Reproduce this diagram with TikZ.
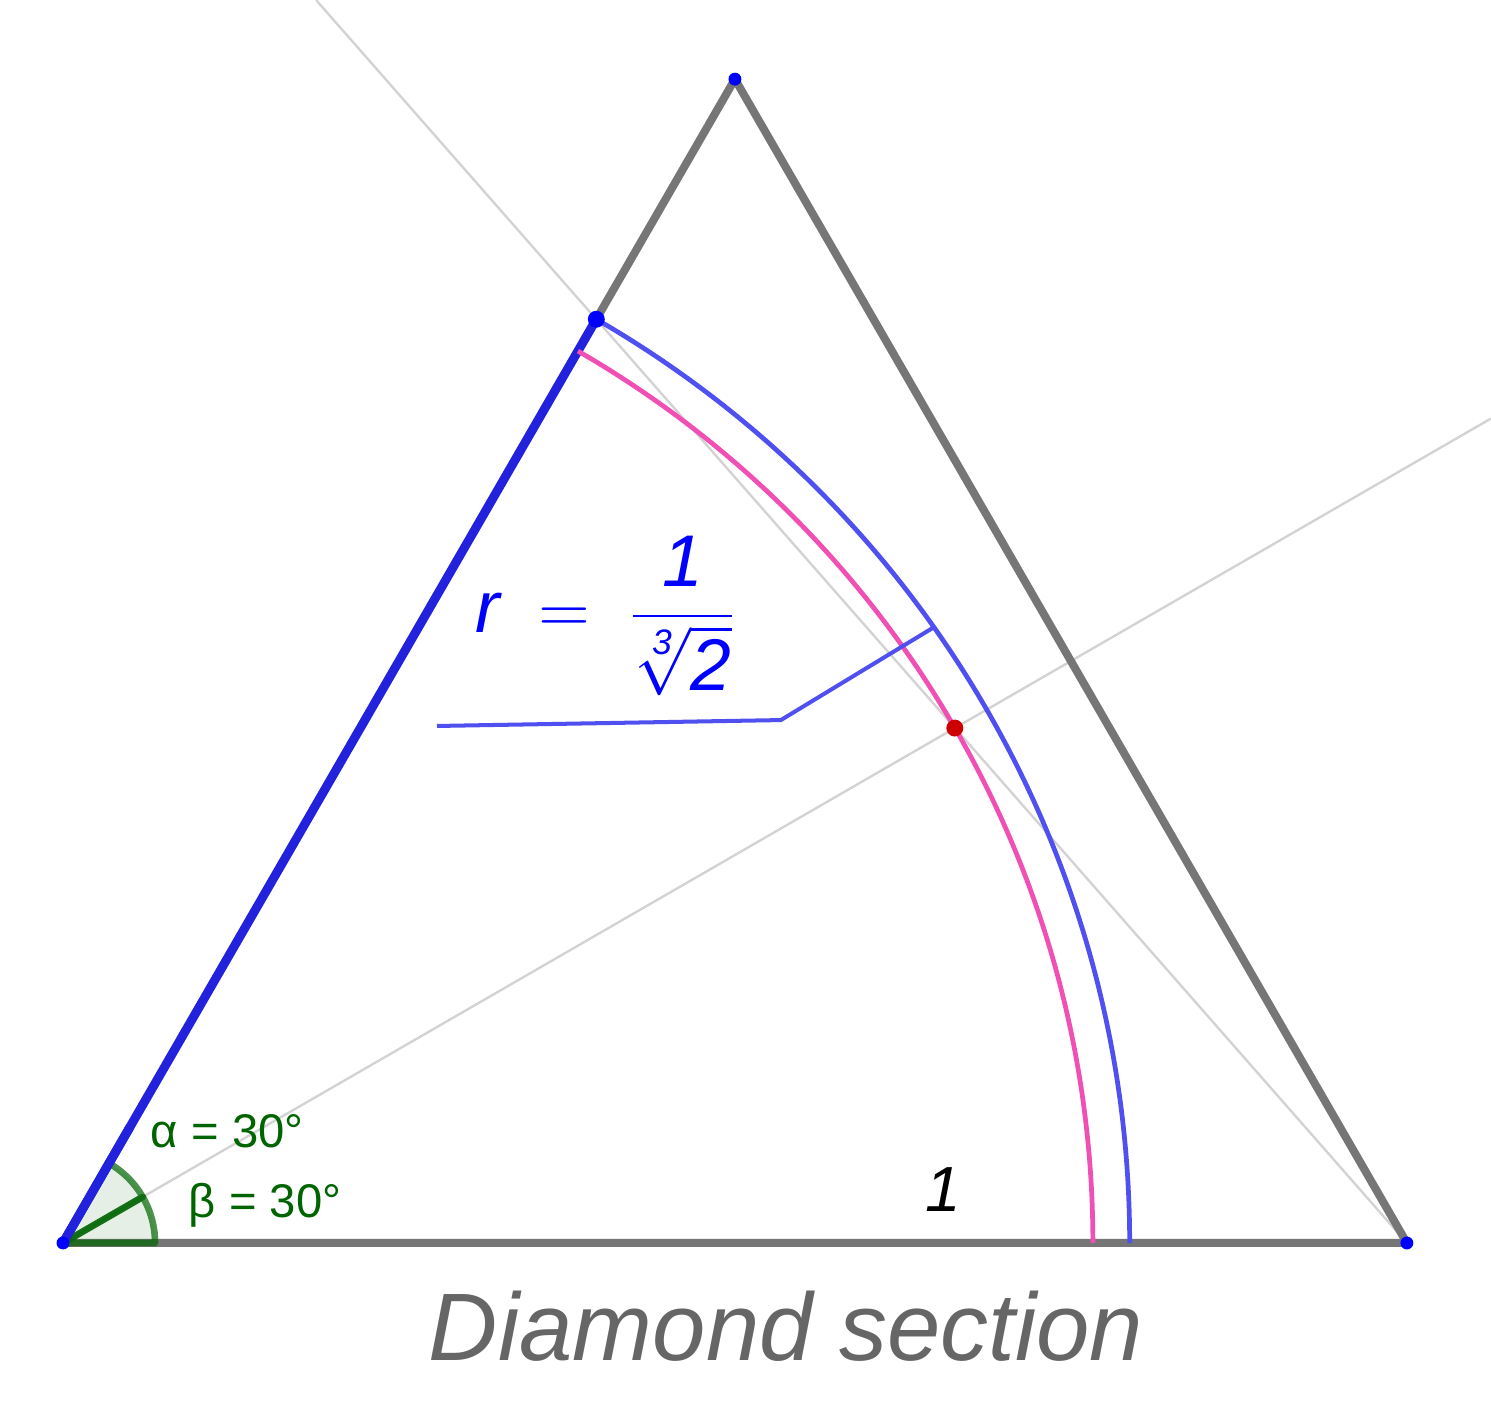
\documentclass[tikz,border=0pt]{standalone}
\usepackage{fontspec}
\setmainfont{Liberation Sans}
\usepackage{amsmath}
\usepackage{xcolor}
\usetikzlibrary{calc, math}
\definecolor{sidegray}{RGB}{118,118,118}
\definecolor{guidegray}{RGB}{211,211,211}
\definecolor{segblue}{RGB}{34,34,221}
\definecolor{arcblue}{RGB}{80,80,240}
\definecolor{arcpink}{RGB}{240,80,180}
\definecolor{ptblue}{RGB}{0,0,255}
\definecolor{ptred}{RGB}{204,0,0}
\definecolor{anggreen}{RGB}{0,100,0}
\definecolor{titlegray}{RGB}{102,102,102}

\begin{document}
\begin{tikzpicture}[scale=10,
 guide/.style={line width=0.5pt, color=guidegray},
 side/.style={line width=1.7pt, color=sidegray, line join=round},
 arcline/.style={line width=1pt},
 angmark/.style={fill=anggreen, fill opacity=0.1, draw=anggreen, draw opacity=0.7, line width=1.4pt, line join=round},
 anglabel/.style={text=anggreen, font=\fontsize{10}{12}\selectfont, inner sep=0pt, anchor=base west}
]
\tikzmath{
\r=1/pow(2,1/3);
\dx=1-\r*cos(60);
\dy=\r*sin(60);
\p=1/(cos(30)+sin(30)*\dx/\dy);
\m=0.0685;
\ps=0.0048;
\pb=0.0063;
}
\useasboundingbox (-0.046875,-0.131696) rectangle (1.0625,0.924851);

 \coordinate (A) at (0,0);
 \coordinate (B) at (1,0);
 \coordinate (C) at (60:1);
 \coordinate (D) at (60:\r);
 \coordinate (E) at (30:1.2269);
 \coordinate (F) at ($(B)!1.3455!(D)$);
 \coordinate (M) at (30:\p);

 %guide lines:
 \draw[guide] (A) -- (E);
 \draw[guide] (B) -- (F);

 %triangle:
 \draw[side] (D) -- (C) -- (B) -- (A);
 \draw[line width=1.9pt, color=segblue] (A) -- (D);

 %arcs:
 \draw[arcline, color=arcpink] (60:\p) arc (60:0:\p);
 \draw[arcline, color=arcblue] (D) arc (60:0:\r);

 %angles:
 \draw[angmark] (A) -- (0:\m) arc (0:30:\m) -- cycle;
 \draw[angmark] (A) -- (30:\m) arc (30:60:\m) -- cycle;
 \draw[line width=1.9pt, color=segblue] (A) -- (60:0.1);

 %label leader:
 \coordinate (L1) at (0.2783,0.3847);
 \coordinate (L2) at (0.5342,0.3891);
 \coordinate (L3) at (35.26:\r);
 \draw[line width=0.85pt, color=arcblue] (L1) -- (L2) -- (L3);

 %points:
 \fill[color=ptblue] (A) circle (\ps);
 \fill[color=ptblue] (B) circle (\ps);
 \fill[color=ptblue] (C) circle (\ps);
 \fill[color=ptblue] (D) circle (\pb);
 \fill[color=ptred] (M) circle (\pb);

 %texts:
 \node[anglabel] (alpha) at (0.0647,0.0714) {α = 30°};
 \node[anglabel] (beta) at (0.0930,0.0193) {β = 30°};
 \node[inner sep=0pt, font=\fontsize{13.5}{16}\selectfont\itshape] (one) at (0.6551,0.0394) {1};
 \node[inner sep=0pt, text=ptblue, font=\fontsize{15.5}{18}\selectfont] (rlabel) at (0.4044,0.4662)
  {$\displaystyle \mbox{\itshape r}\;=\;\frac{\mbox{\itshape 1}}{\sqrt[\mbox{\fontsize{7.5}{8}\selectfont\itshape 3}]{\mbox{\itshape 2}}}$};
 \node[anchor=base west, inner sep=0pt, text=titlegray, font=\fontsize{20.3}{24}\selectfont\itshape] (title) at (0.2716,-0.0878) {Diamond section};
\end{tikzpicture}
\end{document}
